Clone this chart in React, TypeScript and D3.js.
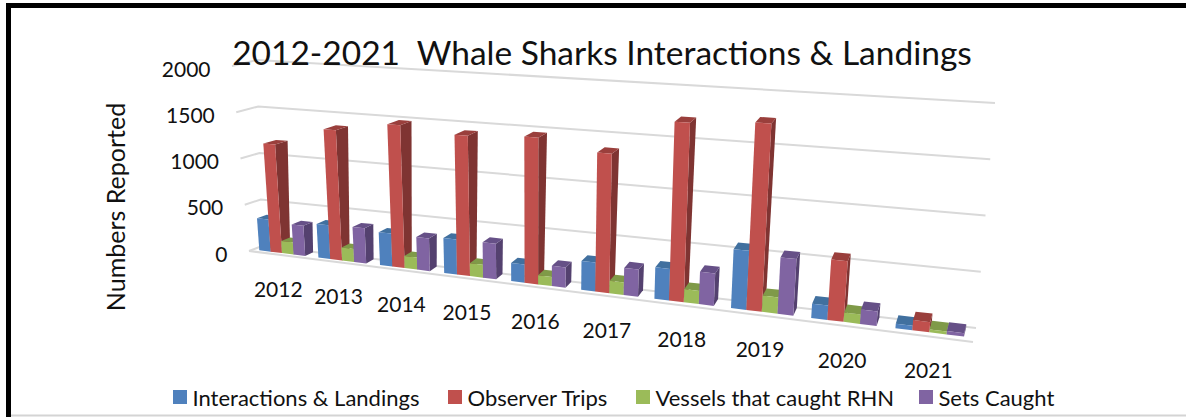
import React from "react";
import * as d3 from "d3";

const years = ["2012","2013","2014","2015","2016","2017","2018","2019","2020","2021"];
const interactions = [345,355,340,355,180,280,300,550,130,40];
const observerTrips = [1160,1365,1470,1415,1450,1350,1700,1745,550,90];
const vessels = [130,135,125,130,90,120,125,150,85,25];
const setsCaught = [320,365,335,355,200,260,305,520,130,30];
const yTicks = [0,500,1000,1500,2000];
const seriesNames = ["Interactions & Landings","Observer Trips","Vessels that caught RHN","Sets Caught"];
const seriesValues = [interactions,observerTrips,vessels,setsCaught];
const colors = ["#4F81BD","#C0504D","#9BBB59","#8064A2"];
const sideColors = ["#3A608E","#7F3432","#708A3E","#54416F"];
const topColors = ["#41709F","#9A3F3C","#7F9A48","#665087"];
const legendX = [173,448,636,919];

type P = [number, number];
const lerp = (a: P, b: P, t: number): P => [a[0]+(b[0]-a[0])*t, a[1]+(b[1]-a[1])*t];
// floor and top (axis maximum) planes of the 3-D box
const floor = { fl:[249,251] as P, fr:[973,342] as P, bl:[262,246] as P, br:[976,328] as P };
const top = { fl:[232,66] as P, fr:[995,112] as P, bl:[257,60] as P, br:[995,103] as P };
const persp = 0.8;
const tOf = (u: number) => (u*persp)/(1+u*(persp-1));
const vScale = d3.scaleLinear().domain([0,2000]).range([0,1]);
const band = d3.scaleBand<string>().domain(years).range([0,1]).paddingInner(0.22).paddingOuter(0.11);
const project = (u: number, d: number, v: number): P => {
  const t = tOf(u);
  const f = lerp(lerp(floor.fl,floor.fr,t),lerp(floor.bl,floor.br,t),d);
  const g = lerp(lerp(top.fl,top.fr,t),lerp(top.bl,top.br,t),d);
  return lerp(f,g,vScale(v));
};
const poly = (pts: P[]) => pts.map(p => p[0].toFixed(1)+","+p[1].toFixed(1)).join(" ");
const d0 = 0.3, d1 = 0.95;
const font = "Lato, Carlito, Calibri, sans-serif";

export default function App() {
  const line = d3.line<P>();
  return (
    <svg width={1186} height={417} viewBox="0 0 1186 417" style={{position:"absolute",left:0,top:0,background:"#fff"}} fontFamily={font} fill="#111">
      <path d="M8.5 417V5.5H1186" fill="none" stroke="#000" strokeWidth={5}/>
      <line x1={11} x2={1186} y1={415.5} y2={415.5} stroke="#D4D4D4" strokeWidth={2}/>
      {yTicks.map(v => (
        <path key={v} d={line([project(0,0,v),project(0,1,v),project(1,1,v)]) ?? ""} fill="none" stroke="#D9D9D9" strokeWidth={2}/>
      ))}
      <path d={line([project(0,0,0),project(1,0,0)]) ?? ""} fill="none" stroke="#D9D9D9" strokeWidth={2}/>
      {yTicks.map(v => {
        const p = project(0,0,v);
        return <text key={v} x={p[0]-21.5} y={p[1]+2} textAnchor="end" dominantBaseline="central" fontSize={21}>{v}</text>;
      })}
      {years.map((y,i) => {
        const w = band.bandwidth()/4;
        return <g key={y}>
          {seriesValues.map((vals,s) => {
            const u0 = (band(y) as number)+s*w, u1 = u0+w, v = vals[i];
            const a = project(u0,d0,0), b = project(u1,d0,0), c = project(u1,d0,v), e = project(u0,d0,v);
            const bb = project(u1,d1,0), cb = project(u1,d1,v), eb = project(u0,d1,v);
            return <g key={s}>
              <polygon points={poly([b,bb,cb,c])} fill={sideColors[s]}/>
              <polygon points={poly([e,c,cb,eb])} fill={topColors[s]}/>
              <polygon points={poly([a,b,c,e])} fill={colors[s]}/>
            </g>;
          })}
        </g>;
      })}
      {years.map(y => {
        const p = project((band(y) as number)+band.bandwidth()/2,0,0);
        return <text key={y} x={p[0]} y={p[1]+33.5} textAnchor="middle" dominantBaseline="central" fontSize={21}>{y}</text>;
      })}
      <text x={602} y={52} textAnchor="middle" dominantBaseline="central" fontSize={33.5} xmlSpace="preserve">2012-2021  Whale Sharks Interactions &amp; Landings</text>
      <text transform="translate(115,207) rotate(-90)" textAnchor="middle" dominantBaseline="central" fontSize={25}>Numbers Reported</text>
      {seriesNames.map((n,i) => (
        <g key={n}>
          <rect x={legendX[i]} y={390} width={14} height={14} fill={colors[i]}/>
          <text x={legendX[i]+19.5} y={397} dominantBaseline="central" fontSize={22}>{n}</text>
        </g>
      ))}
    </svg>
  );
}
